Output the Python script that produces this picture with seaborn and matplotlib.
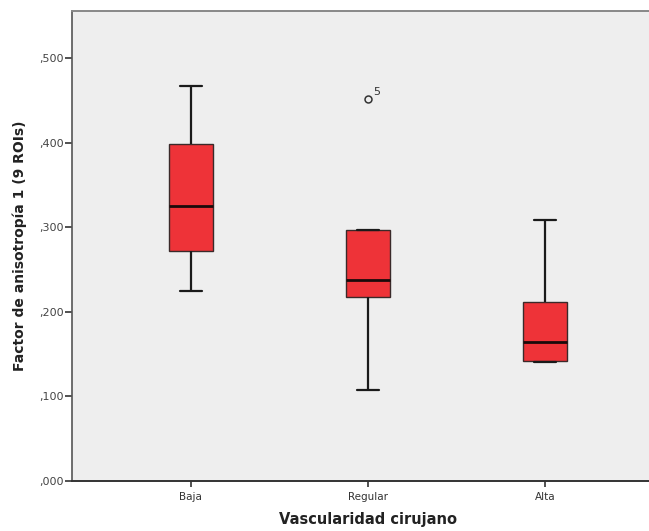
import matplotlib
matplotlib.use("Agg")
import matplotlib.pyplot as plt
import seaborn as sns
import pandas as pd

# values (box stats per group)
categories = ["Baja", "Regular", "Alta"]
baja = [0.2246, 0.272, 0.272, 0.325, 0.398, 0.398, 0.467]
regular = [0.1076, 0.2175, 0.2175, 0.2376, 0.2967, 0.2967, 0.4515]
alta = [0.1407, 0.1418, 0.1418, 0.1643, 0.2116, 0.2116, 0.3085]
outlier_label = "5"
yticks = [0.0, 0.1, 0.2, 0.3, 0.4, 0.5]

rows = []
for cat, vals in zip(categories, [baja, regular, alta]):
    for v in vals:
        rows.append({"grupo": cat, "valor": v})
df = pd.DataFrame(rows)

sns.set_style("white")
plt.rcParams["font.family"] = ["DejaVu Sans"]

fig = plt.figure(figsize=(6.49, 5.31), dpi=100)
ax = fig.add_axes([0.111, 0.0942, 0.9115, 0.886])
ax.set_facecolor("#eeeeee")

sns.boxplot(
    data=df, x="grupo", y="valor", order=categories, ax=ax,
    width=0.25, color="#ee3338", saturation=1, linewidth=1.2,
    whis=1.5,
    boxprops=dict(edgecolor="#3a2a2a", linewidth=1),
    medianprops=dict(color="#1a0a0a", linewidth=2),
    whiskerprops=dict(color="#1a1a1a", linewidth=1.6),
    capprops=dict(color="#1a1a1a", linewidth=1.6),
    flierprops=dict(marker="o", markersize=5, markerfacecolor="none",
                    markeredgecolor="#333333", markeredgewidth=1.1),
)

# outlier case label
ax.annotate(outlier_label, xy=(1, regular[-1]), xytext=(4, 3),
            textcoords="offset points", fontsize=8, color="#333333")

ax.set_xlim(-0.67, 2.67)
ax.set_ylim(0, 0.556)
ax.set_yticks(yticks)
ax.set_yticklabels(["," + f"{t:.3f}".split(".")[1] for t in yticks], fontsize=8, color="#444444")
ax.set_xticks(range(len(categories)))
ax.set_xticklabels(categories, fontsize=7.5, color="#333333")

for side in ["top", "left", "right", "bottom"]:
    ax.spines[side].set_visible(True)
ax.spines["left"].set_color("#555555")
ax.spines["bottom"].set_color("#333333")
ax.spines["top"].set_color("#888888")
ax.spines["right"].set_color("#888888")
ax.spines["left"].set_linewidth(1.2)
ax.spines["bottom"].set_linewidth(1.4)
ax.spines["top"].set_linewidth(1.4)

ax.tick_params(axis="y", direction="out", length=5, width=1.2, color="#333333", pad=1, left=True)
ax.tick_params(axis="x", direction="out", length=4, width=1.2, color="#333333", pad=4, bottom=True)

ax.set_xlabel("Vascularidad cirujano", fontsize=10.5, fontweight="bold", color="#222222", labelpad=7)
ax.set_ylabel("Factor de anisotropía 1 (9 ROIs)", fontsize=10, fontweight="bold", color="#222222", labelpad=9)

fig.savefig("out.png", dpi=100)
